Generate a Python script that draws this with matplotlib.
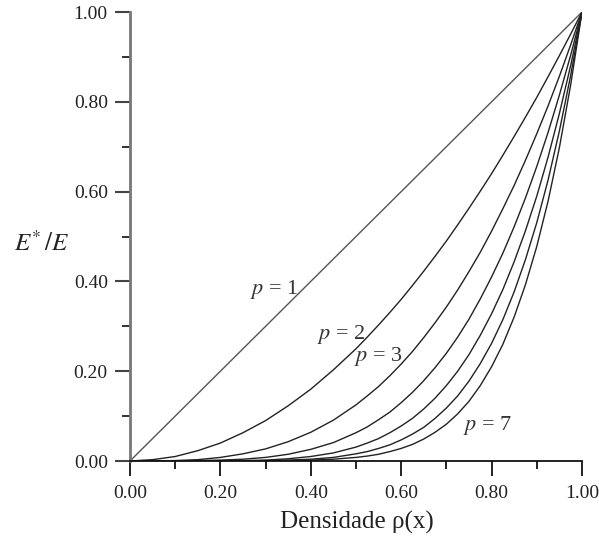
import matplotlib
matplotlib.use("Agg")
import matplotlib.pyplot as plt
from matplotlib.ticker import MultipleLocator, FormatStrFormatter

plt.rcParams['font.family'] = ['Liberation Serif', 'DejaVu Serif']
plt.rcParams['mathtext.fontset'] = 'stix'

# densidade rho(x), read along the x axis (finer where the curves bend)
rho = [0.00, 0.05, 0.10, 0.15, 0.20, 0.25, 0.30, 0.35, 0.40, 0.45, 0.50,
       0.525, 0.55, 0.575, 0.60, 0.625, 0.65, 0.675, 0.70, 0.725, 0.75,
       0.775, 0.80, 0.825, 0.85, 0.875, 0.90, 0.925, 0.95, 0.975, 1.00]

# E*/E
e_p1 = [0.000, 0.050, 0.100, 0.150, 0.200, 0.250, 0.300, 0.350, 0.400, 0.450, 0.500,
        0.525, 0.550, 0.575, 0.600, 0.625, 0.650, 0.675, 0.700, 0.725, 0.750,
        0.775, 0.800, 0.825, 0.850, 0.875, 0.900, 0.925, 0.950, 0.975, 1.000]
e_p2 = [0.000, 0.003, 0.010, 0.023, 0.040, 0.063, 0.090, 0.123, 0.160, 0.203, 0.250,
        0.276, 0.303, 0.331, 0.360, 0.391, 0.423, 0.456, 0.490, 0.526, 0.563,
        0.601, 0.640, 0.681, 0.723, 0.766, 0.810, 0.856, 0.903, 0.951, 1.000]
e_p3 = [0.000, 0.000, 0.001, 0.003, 0.008, 0.016, 0.027, 0.043, 0.064, 0.091, 0.125,
        0.145, 0.166, 0.190, 0.216, 0.244, 0.275, 0.308, 0.343, 0.381, 0.422,
        0.465, 0.512, 0.562, 0.614, 0.670, 0.729, 0.791, 0.857, 0.927, 1.000]
e_p4 = [0.000, 0.000, 0.000, 0.001, 0.002, 0.004, 0.008, 0.015, 0.026, 0.041, 0.063,
        0.076, 0.092, 0.109, 0.130, 0.153, 0.179, 0.208, 0.240, 0.276, 0.316,
        0.361, 0.410, 0.463, 0.522, 0.586, 0.656, 0.732, 0.815, 0.904, 1.000]
e_p5 = [0.000, 0.000, 0.000, 0.000, 0.000, 0.001, 0.002, 0.005, 0.010, 0.018, 0.031,
        0.040, 0.050, 0.063, 0.078, 0.095, 0.116, 0.140, 0.168, 0.200, 0.237,
        0.280, 0.328, 0.382, 0.444, 0.513, 0.590, 0.677, 0.774, 0.881, 1.000]
e_p6 = [0.000, 0.000, 0.000, 0.000, 0.000, 0.000, 0.001, 0.002, 0.004, 0.008, 0.016,
        0.021, 0.028, 0.036, 0.047, 0.060, 0.075, 0.095, 0.118, 0.145, 0.178,
        0.217, 0.262, 0.315, 0.377, 0.449, 0.531, 0.626, 0.735, 0.859, 1.000]
e_p7 = [0.000, 0.000, 0.000, 0.000, 0.000, 0.000, 0.000, 0.001, 0.002, 0.004, 0.008,
        0.011, 0.015, 0.021, 0.028, 0.037, 0.049, 0.064, 0.082, 0.105, 0.133,
        0.168, 0.210, 0.260, 0.321, 0.393, 0.478, 0.579, 0.698, 0.838, 1.000]

curves = [e_p1, e_p2, e_p3, e_p4, e_p5, e_p6, e_p7]

# curve labels and where they sit
labels = ['$p$ = 1', '$p$ = 2', '$p$ = 3', '$p$ = 7']
label_x = [0.318, 0.468, 0.550, 0.790]
label_y = [0.381, 0.281, 0.232, 0.078]

fig = plt.figure(figsize=(5.99, 5.39), dpi=100)
ax = fig.add_axes([0.217, 0.1447, 0.7546, 0.833])

for i, ys in enumerate(curves):
    col = '#555555' if i == 0 else '#222222'
    ax.plot(rho, ys, color=col, lw=1.0)

for t, lx, ly in zip(labels, label_x, label_y):
    ax.text(lx, ly, t, fontsize=16, ha='center', va='center', color='#333333')

ax.set_xlim(0, 1)
ax.set_ylim(0, 1)

ax.spines['top'].set_visible(False)
ax.spines['right'].set_visible(False)
ax.spines['left'].set_color('#777777')
ax.spines['left'].set_linewidth(2.0)
ax.spines['bottom'].set_color('#111111')
ax.spines['bottom'].set_linewidth(1.3)

ax.xaxis.set_major_locator(MultipleLocator(0.2))
ax.xaxis.set_minor_locator(MultipleLocator(0.1))
ax.yaxis.set_major_locator(MultipleLocator(0.2))
ax.yaxis.set_minor_locator(MultipleLocator(0.1))
ax.xaxis.set_major_formatter(FormatStrFormatter('%.2f'))
ax.yaxis.set_major_formatter(FormatStrFormatter('%.2f'))

ax.tick_params(axis='x', which='major', direction='out', length=11, width=1.3,
               color='#111111', labelsize=14, pad=6, labelcolor='#222222')
ax.tick_params(axis='x', which='minor', direction='out', length=5.5, width=1.3,
               color='#111111')
ax.tick_params(axis='y', which='major', direction='out', length=11, width=1.5,
               color='#444444', labelsize=14, pad=5, labelcolor='#222222')
ax.tick_params(axis='y', which='minor', direction='out', length=5.5, width=1.3,
               color='#222222')

ax.set_xlabel('Densidade ρ(x)', fontsize=18, color='#222222', va='baseline')
ax.xaxis.set_label_coords(0.503, -0.151)
ax.set_ylabel('$E^{*}\\,/E$', fontsize=18, color='#222222', rotation=0,
              va='center')
ax.yaxis.set_label_coords(-0.195, 0.485)

fig.savefig('out.png', dpi=100)
